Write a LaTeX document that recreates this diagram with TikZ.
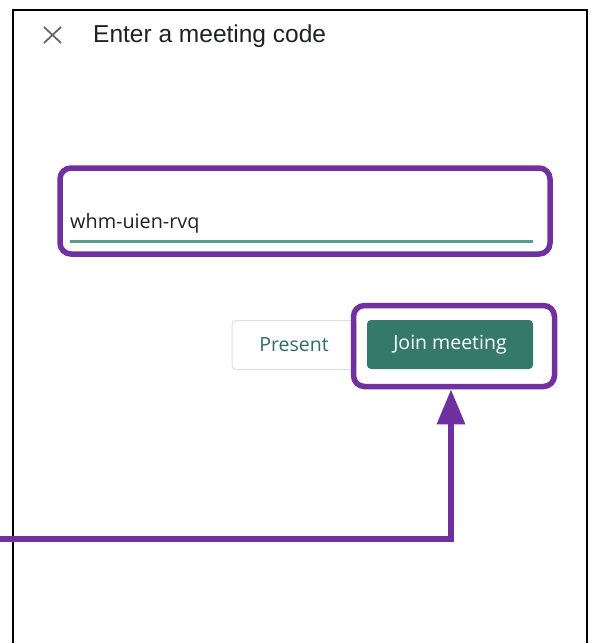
\documentclass[tikz,border=0pt]{standalone}
\usepackage{fontspec}
\setmainfont{Open Sans}
\newfontfamily\titlefont{Liberation Sans}
\usetikzlibrary{arrows.meta,positioning}
\definecolor{markpurple}{RGB}{112,48,160}
\definecolor{meetgreen}{RGB}{52,121,106}
\definecolor{linegreen}{RGB}{90,155,140}
\definecolor{textdark}{RGB}{32,33,36}

\begin{document}
\begin{tikzpicture}[x=1pt,y=-1pt,
		highlight/.style={draw=markpurple, line width=5.5pt, rounded corners=11pt, inner sep=0pt},
		btn/.style={rounded corners=4pt, inner sep=0pt, minimum height=49pt, font=\fontsize{19.5}{22}\selectfont}]
		\useasboundingbox[fill=white] (0,0) rectangle (591,643);
		
		% phone screen border
		\draw[line width=2pt] (13,660) -- (13,10) -- (587,10) -- (587,660);
		
		% header
		\draw[gray!80!black, line width=1.8pt] (44,27) -- (61,43) (44,43) -- (61,27);
		\node[anchor=base west, inner sep=0pt, text=textdark, font=\titlefont\fontsize{24.5}{28}\selectfont] (title) at (93,42) {Enter a meeting code};
		
		% code field
		\node[anchor=base west, inner sep=0pt, text=textdark, font=\fontsize{19.8}{22}\selectfont] (code) at (70,228) {whm-uien-rvq};
		\draw[linegreen, line width=3pt] (70,241.5) -- (533,241.5);
		\node[highlight, minimum width=490pt, minimum height=86pt] (codemark) at (305,211) {};
		
		% buttons
		\node[btn, draw=gray!25, line width=1pt, minimum width=124pt, text=meetgreen!90!black] (present) at (294,345) {Present};
		\node[btn, fill=meetgreen, minimum width=166pt, text=white] (join) at (450,344.5) {Join meeting};
		\node[highlight, minimum width=201pt, minimum height=81pt] (joinmark) at (454,346) {};
		
		% pointer
		\coordinate (start) at (-5,539);
		\draw[markpurple, line width=6pt, -{Triangle[width=27pt,length=35pt]}] (start) -| ([xshift=-3pt]joinmark.south);
	\end{tikzpicture}
\end{document}
